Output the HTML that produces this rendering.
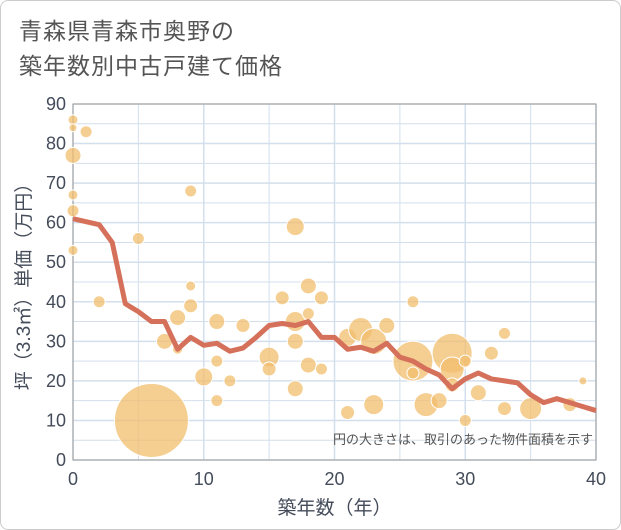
<!DOCTYPE html>
<html><head><meta charset="utf-8"><style>
body{margin:0;background:#fff;font-family:"Liberation Sans","Noto Sans CJK JP",sans-serif}
</style></head><body>
<div style="position:relative;width:619px;height:528px;border:1px solid #ccc;border-radius:8px;overflow:hidden">
<div style="position:absolute;left:18px;top:13px;font-size:23px;line-height:35px;color:#555;letter-spacing:1px">青森県青森市奥野の<br>築年数別中古戸建て価格</div>
<svg id="c" width="621" height="530" style="position:absolute;left:-1px;top:-1px"></svg>
</div>
<script>
const bubAge=[0,0,1,0,0,0,0,9,5,2,9,9,8,7,8,11,13,11,10,12,11,6,15,15,17,16,18,17,19,18,17,18,19,17,21,21,22,23,24,26,26,26,27,28,23,29,29,30,29,31,32,33,33,35,38,39,30];
const bubPrice=[86,84,83,77,67,63,53,68,56,40,44,39,36,30,28,35,34,25,21,20,15,10,26,23,59,41,44,35,41,37,30,24,23,18,12,31,33,30,34,40,25,22,14,15,14,27,23,25,19,17,27,32,13,13,14,20,10];
const bubSize=[5,4,6,8,5,6,5,6,6,6,5,7,8,8,5,8,7,6,9,6,6,37,10,7,9,7,8,10,7,6,8,8,6,8,7,9,12,13,8,6,20,6,12,8,10,20,12,6,7,8,7,6,7,11,7,4,6];
const lineAge=[0,2,3,4,5,6,7,8,9,10,11,12,13,14,15,16,17,18,19,20,21,22,23,24,25,26,27,28,29,30,31,32,33,34,35,36,37,38,39,40];
const linePrice=[61,59.5,55,39.5,37.5,35,35,28,31,29,29.5,27.5,28.3,31,34,34.5,34,35,31,31,28,28.5,27.5,29.5,26,25,23,21.5,18,20.5,22,20.5,20,19.5,16.5,14.5,15.5,14.5,13.5,12.5];
const xTicks=[0,10,20,30,40];
const yTicks=[0,10,20,30,40,50,60,70,80,90];
const svg=document.getElementById('c');const NS='http://www.w3.org/2000/svg';
const X0=73,X1=596,Y0=460,Y1=104;
const sx=v=>X0+(X1-X0)*v/40, sy=v=>Y0-(Y0-Y1)*v/90;
function mk(t,a){const e=document.createElementNS(NS,t);for(const k in a)e.setAttribute(k,a[k]);svg.appendChild(e);return e;}
for(let v=0;v<=90;v+=5){const g=mk('line',{x1:X0,x2:X1,y1:sy(v),y2:sy(v),stroke:'#d3dfec','stroke-width':v%10?1:1.5});

}
for(let v=0;v<=40;v+=5){const g=mk('line',{x1:sx(v),x2:sx(v),y1:Y1,y2:Y0,stroke:'#d3dfec','stroke-width':v%10?1:1.5});

}
const fr=mk('rect',{x:X0,y:Y1,width:X1-X0,height:Y0-Y1,fill:'none',stroke:'#999','stroke-width':1});


yTicks.forEach(v=>{const t=mk('text',{x:X0-7,y:sy(v)+6,'text-anchor':'end','font-size':18,fill:'#444c5a'});t.textContent=v;

});
xTicks.forEach(v=>{const t=mk('text',{x:sx(v),y:485,'text-anchor':'middle','font-size':18,fill:'#444c5a'});t.textContent=v;

});
bubAge.forEach((a,i)=>{const c=mk('circle',{cx:sx(a),cy:sy(bubPrice[i]),r:bubSize[i],fill:'#f2be6e','fill-opacity':0.75,stroke:'#fff','stroke-width':1});

});
const p=mk('polyline',{points:lineAge.map((a,i)=>sx(a)+','+sy(linePrice[i])).join(' '),fill:'none',stroke:'#d5705a','stroke-width':5,'stroke-linejoin':'round'});


const n=mk('text',{x:593,y:444,'text-anchor':'end','font-size':13,fill:'#555'});n.textContent='円の大きさは、取引のあった物件面積を示す';


const xt=mk('text',{x:sx(20),y:514,'text-anchor':'middle','font-size':19,fill:'#444c5a'});xt.textContent='築年数（年）';


const yt=mk('text',{x:0,y:0,'text-anchor':'middle','font-size':19,fill:'#444c5a',transform:'translate(30,282) rotate(-90)'});yt.textContent='坪（3.3㎡）単価（万円）';


</script>
</body></html>
